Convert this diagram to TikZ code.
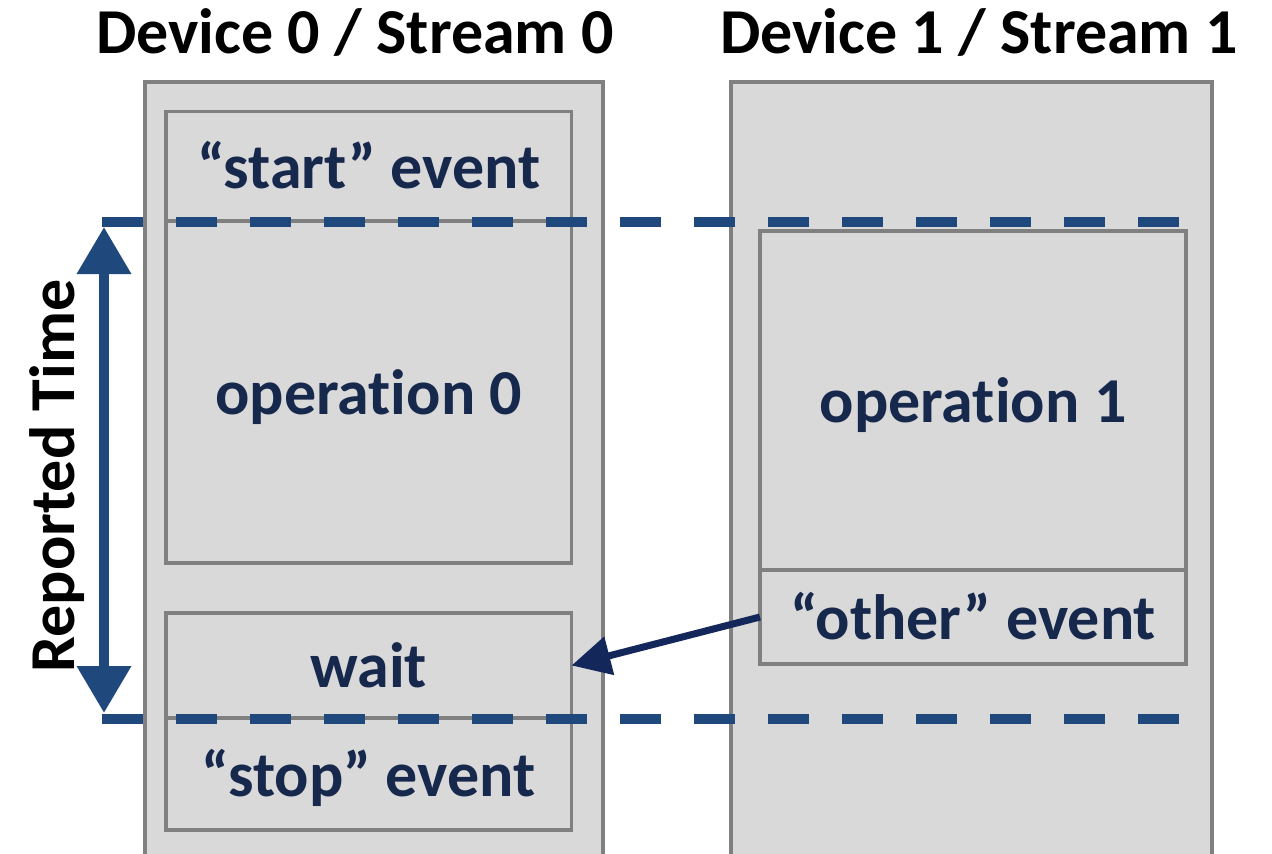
\documentclass[tikz,border=0pt]{standalone}
\usepackage{fontspec}
\setmainfont{Carlito}[Ligatures=NoCommon]
\usetikzlibrary{arrows.meta}

\definecolor{framegray}{HTML}{808080}
\definecolor{panelfill}{HTML}{D9D9D9}
\definecolor{guideblue}{HTML}{1F497D}
\definecolor{labelnavy}{HTML}{17284D}
\definecolor{arrownavy}{HTML}{14275A}

\tikzset{
  lane/.style={draw=framegray, fill=panelfill, line width=3.5pt,
    anchor=north west, inner sep=0pt, outer sep=0pt},
  opbox/.style={draw=framegray, fill=panelfill, line width=3.5pt,
    anchor=north west, inner sep=0pt, outer sep=0pt,
    text height=44pt, text depth=0pt,
    font=\fontsize{64}{70}\selectfont\bfseries, text=labelnavy},
  heading/.style={font=\fontsize{64}{70}\selectfont\bfseries, text=black, anchor=base},
  guide/.style={draw=guideblue, line width=10pt, dash pattern=on 41pt off 33pt},
  span/.style={draw=guideblue, line width=10pt,
    {Triangle[length=47pt,width=52pt]}-{Triangle[length=47pt,width=52pt]}},
  signal/.style={draw=arrownavy, line width=7pt, -{Triangle[length=39pt,width=38pt]}},
}

\begin{document}
\begin{tikzpicture}[x=1pt,y=-1pt]
\useasboundingbox (0,0) rectangle (1272,854);
\begin{scope}
\clip (0,0) rectangle (1272,854);

% stream lanes (run past the lower edge)
\node[lane, minimum width=458pt, minimum height=820pt] (dev0) at (145,82) {};
\node[lane, minimum width=481pt, minimum height=820pt] (dev1) at (731,82) {};

% device 0 work items
\node[opbox, minimum width=405.5pt, minimum height=109.5pt] (start) at (166,111.5) {“start” event};
\node[opbox, minimum width=405.5pt, minimum height=342pt] (op0) at (166,221) {operation 0};
\node[opbox, minimum width=405.5pt, minimum height=105pt] (wait) at (166,613) {wait};
\node[opbox, minimum width=405.5pt, minimum height=112pt] (stop) at (166,718) {“stop” event};

% device 1 work items
\node[opbox, minimum width=426pt, minimum height=339pt] (op1) at (760,231) {operation 1};
\node[opbox, minimum width=426pt, minimum height=94pt] (other) at (760,570) {“other” event};

% timing guides
\coordinate (g1a) at (102,222);
\coordinate (g1b) at (1180,222);
\coordinate (g2a) at (102,719);
\coordinate (g2b) at (1180,719);
\draw[guide] (g1a) -- (g1b);
\draw[guide] (g2a) -- (g2b);

% reported interval
\coordinate (spanTop) at (104,227);
\coordinate (spanBot) at (104,713);
\draw[span] (spanTop) -- (spanBot);

% cross-stream dependency
\draw[signal] (other.west) -- (wait.east);
\end{scope}

% headings
\node[heading] (h0) at (355,53) {Device 0 / Stream 0};
\node[heading] (h1) at (979,53) {Device 1 / Stream 1};
\node[heading, rotate=90] (rt) at (74,476) {Reported Time};
\end{tikzpicture}
\end{document}
